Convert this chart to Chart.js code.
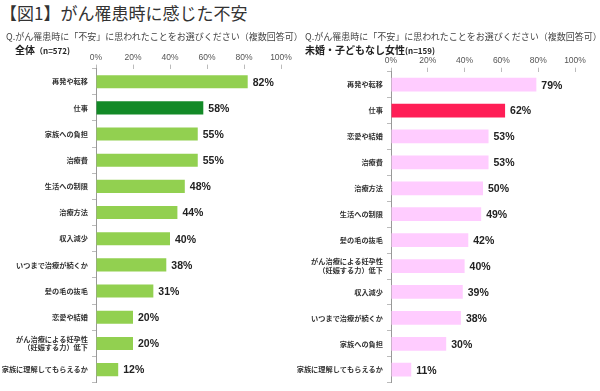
<!DOCTYPE html>
<html><head><meta charset="utf-8">
<script src="https://cdn.jsdelivr.net/npm/chart.js@4"></script>
<style>
html,body{margin:0;padding:0;background:#fff;width:600px;height:391px;overflow:hidden;}
.t{position:absolute;font-family:'Noto Sans CJK JP',sans-serif;color:#333;white-space:nowrap;z-index:2;}
canvas{position:absolute;}
</style></head><body>
<div class="t" style="left:0;top:2px;font-size:17px;line-height:22px;">【図1】がん罹患時に感じた不安</div>
<div class="t" style="left:6px;top:31px;font-size:9px;line-height:12px;color:#444;">Q.がん罹患時に「不安」に思われたことをお選びください（複数回答可）</div>
<div class="t" style="left:305px;top:31px;font-size:9px;line-height:12px;color:#444;">Q.がん罹患時に「不安」に思われたことをお選びください（複数回答可）</div>
<div class="t" style="left:15px;top:43px;font-size:10px;line-height:13px;font-weight:bold;color:#222;">全体<span style="font-size:8px;">（n=572)</span></div>
<div class="t" style="left:305px;top:43px;font-size:10px;line-height:13px;font-weight:bold;color:#222;">未婚・子どもなし女性<span style="font-size:8px;">(n=159)</span></div>
<canvas id="c1" width="300" height="341" style="left:0;top:50px;width:300px;height:341px;"></canvas>
<canvas id="c2" width="310" height="341" style="left:290px;top:50px;width:310px;height:341px;"></canvas>
<script>
const tickLabels = ['0%','20%','40%','60%','80%','100%'];
const leftCategories = ['再発や転移','仕事','家族への負担','治療費','生活への制限','治療方法','収入減少','いつまで治療が続くか','髪の毛の抜毛','恋愛や結婚',['がん治療による妊孕性','（妊娠する力）低下'],'家族に理解してもらえるか'];
const leftValues = [82,58,55,55,48,44,40,38,31,20,20,12];
const rightCategories = ['再発や転移','仕事','恋愛や結婚','治療費','治療方法','生活への制限','髪の毛の抜毛',['がん治療による妊孕性','（妊娠する力）低下'],'収入減少','いつまで治療が続くか','家族への負担','家族に理解してもらえるか'];
const rightValues = [79,62,53,53,50,49,42,40,39,38,30,11];
const highlightCategory = '仕事';

const FF = "'Liberation Sans','Noto Sans CJK JP',sans-serif";
const JF = "'Noto Sans CJK JP','Liberation Sans',sans-serif";

const valueLabels = {
  id:'valueLabels',
  afterDatasetsDraw(chart){
    const ctx = chart.ctx;
    const meta = chart.getDatasetMeta(0);
    const data = chart.data.datasets[0].data;
    ctx.save();
    ctx.font = "bold 10.5px " + FF;
    ctx.fillStyle = '#222';
    ctx.textAlign = 'left';
    ctx.textBaseline = 'middle';
    meta.data.forEach((bar,i)=>{
      ctx.fillText(data[i] + '%', bar.x + 5, bar.y + 1);
    });
    ctx.restore();
  }
};

function makeChart(id, cats, vals, light, dark, yWidth, xHeight, padRight, padBottom, barPct){
  const colors = cats.map(c => c === highlightCategory ? dark : light);
  return new Chart(document.getElementById(id), {
    type:'bar',
    data:{labels:cats, datasets:[{data:vals, backgroundColor:colors, borderWidth:0, barPercentage:barPct, categoryPercentage:1}]},
    options:{
      indexAxis:'y',
      responsive:false,
      animation:false,
      layout:{padding:{left:0,right:padRight,top:0,bottom:padBottom}},
      plugins:{legend:{display:false},tooltip:{enabled:false}},
      scales:{
        x:{
          position:'top', min:0, max:100,
          afterBuildTicks(s){ s.ticks = tickLabels.map(t=>({value: parseFloat(t)})); },
          ticks:{callback:(v,i)=>tickLabels[i], font:{family:FF,size:8.5}, color:'#555', padding:2, maxRotation:0, autoSkip:false},
          grid:{drawOnChartArea:false, drawTicks:true, tickLength:4, color:'#bbb'},
          border:{display:false},
          afterFit(s){ s.height = xHeight; }
        },
        y:{
          ticks:{font:{family:JF,size:7.2,weight:'bold'}, color:'#333', padding:4, autoSkip:false},
          grid:{drawOnChartArea:false, drawTicks:true, tickLength:4, color:'#bbb', offset:true},
          border:{display:true, color:'#999', width:1},
          afterFit(s){ s.width = yWidth; }
        }
      }
    },
    plugins:[valueLabels]
  });
}
makeChart('c1', leftCategories, leftValues, '#92D050', '#138A27', 96, 18.6, 19, 2, 0.5);
makeChart('c2', rightCategories, rightValues, '#FFCCFF', '#FF1E56', 101, 21.7, 25, 1, 0.53);
</script>
</body></html>
